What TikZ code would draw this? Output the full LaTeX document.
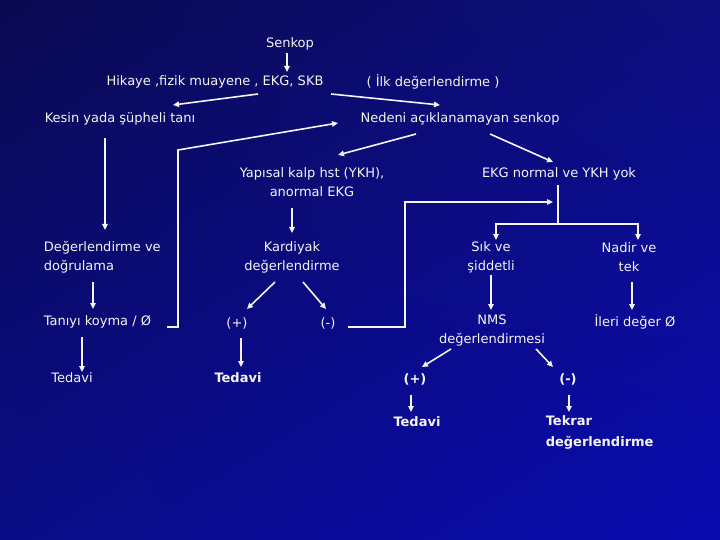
\documentclass[tikz,border=0pt]{standalone}
\usepackage{fontspec}
\setmainfont{DejaVu Sans}
\usetikzlibrary{arrows.meta,calc,shadings}
\definecolor{bgdark}{HTML}{0A0A52}
\definecolor{bgmid}{HTML}{0C0E7E}
\definecolor{bglow}{HTML}{0A0C86}
\definecolor{bglight}{HTML}{0A0AB0}
\definecolor{inkw}{HTML}{F4F4F4}

\begin{document}
\begin{tikzpicture}[
  x=1pt,y=-1pt,
  line width=1.6pt,line cap=butt,
  >={Triangle[length=6pt,width=5.5pt]},
  every node/.style={text=inkw,inner sep=2pt,font=\fontsize{13}{19}\selectfont},
  lbl/.style={align=center},
  lbll/.style={align=left,anchor=west},
  strong/.style={font=\fontsize{13}{21}\selectfont\bfseries},
  conn/.style={draw=inkw,->},
  wire/.style={draw=inkw}
]

% background
\shade[upper left=bgdark,upper right=bgmid,lower left=bglow,lower right=bglight]
  (0,0) rectangle (720,540);
\useasboundingbox (0,0) rectangle (720,540);

% first level
\node[lbl] (senkop) at (290,44) {Senkop};
\node[lbl] (hikaye) at (215,82) {Hikaye ,fizik muayene , EKG, SKB};
\node[lbl] (ilk) at (433,82) {( İlk değerlendirme )};
\node[lbl] (kesin) at (120,119) {Kesin yada şüpheli tanı};
\node[lbl] (nedeni) at (460,119) {Nedeni açıklanamayan senkop};

% second level
\node[lbl] (yapisal) at (312,182) {Yapısal kalp hst (YKH),\\anormal EKG};
\node[lbl] (ekgnormal) at (559,174) {EKG normal ve YKH yok};
\node[lbll] (degerl) at (41,257) {Değerlendirme ve\\doğrulama};
\node[lbl] (kardiyak) at (292,257) {Kardiyak\\değerlendirme};
\node[lbl] (sik) at (491,257) {Sık ve\\şiddetli};
\node[lbl] (nadir) at (629,257) {Nadir ve\\tek};

% third level
\node[lbll] (taniyi) at (41,322) {Tanıyı koyma / Ø};
\node[lbl] (arti1) at (237,323) {(+)};
\node[lbl] (eksi1) at (328,323) {(-)};
\node[lbl] (nms) at (492,331) {NMS\\değerlendirmesi};
\node[lbl] (ileri) at (635,322) {İleri değer Ø};

% results
\node[lbl] (tedavi1) at (72,378) {Tedavi};
\node[lbl,strong] (tedavi2) at (238,378) {Tedavi};
\node[lbl,strong] (arti2) at (415,379) {(+)};
\node[lbl,strong] (eksi2) at (568,379) {(-)};
\node[lbl,strong] (tedavi3) at (417,422) {Tedavi};
\node[lbll,strong,align=left] (tekrar) at (543,432) {Tekrar\\değerlendirme};

% connectors, top part
\draw[conn] ($(senkop)+(-3,9)$) -- ($(hikaye)+(72,-10)$);
\draw[conn] ($(hikaye)+(43,12)$) -- ($(kesin)+(53,-14)$);
\draw[conn] ($(hikaye)+(116,12)$) -- ($(nedeni)+(-20,-14)$);
\draw[conn] ($(kesin)+(-15,19)$) -- ($(degerl.west)+(64,-27)$);
\draw[conn] ($(nedeni)+(-44,15)$) -- ($(yapisal)+(26,-27)$);
\draw[conn] ($(nedeni)+(30,15)$) -- ($(ekgnormal)+(-6,-12)$);

% left column
\draw[conn] ($(degerl.west)+(52,25)$) -- ($(taniyi.west)+(52,-13)$);
\draw[conn] ($(taniyi.west)+(41,15)$) -- ($(tedavi1)+(10,-6)$);
\draw[conn] ($(taniyi.west)+(126,5)$) -- ++(11,0) -- ++(0,-177)
  -- ($(nedeni)+(-122,4)$);

% cardiac branch
\draw[conn] ($(yapisal)+(-20,26)$) -- ($(kardiyak)+(0,-24)$);
\draw[conn] ($(kardiyak)+(-17,25)$) -- ($(arti1)+(10,-14)$);
\draw[conn] ($(kardiyak)+(11,25)$) -- ($(eksi1)+(-2,-14)$);
\draw[conn] ($(arti1)+(4,15)$) -- ($(tedavi2)+(3,-11)$);
\draw[conn] ($(eksi1)+(20,4)$) -| ($(ekgnormal)+(-154,28)$)
  -- ($(ekgnormal)+(-6,28)$);

% normal ECG branch
\coordinate (split) at ($(ekgnormal)+(-1,50)$);
\draw[wire] ($(ekgnormal)+(-1,11)$) -- (split);
\draw[conn] (split) -| ($(sik)+(5,-17)$);
\draw[conn] (split) -| ($(nadir)+(9,-17)$);
\draw[conn] ($(sik)+(0,18)$) -- ($(nms)+(-1,-21)$);
\draw[conn] ($(nadir)+(3,25)$) -- ($(ileri)+(-3,-12)$);
\draw[conn] ($(nms)+(-41,18)$) -- ($(arti2)+(7,-12)$);
\draw[conn] ($(nms)+(44,18)$) -- ($(eksi2)+(-15,-12)$);
\draw[conn] ($(arti2)+(-4,16)$) -- ($(tedavi3)+(-6,-10)$);
\draw[conn] ($(eksi2)+(1,16)$) -- ($(tekrar.west)+(26,-20)$);

\end{tikzpicture}
\end{document}
